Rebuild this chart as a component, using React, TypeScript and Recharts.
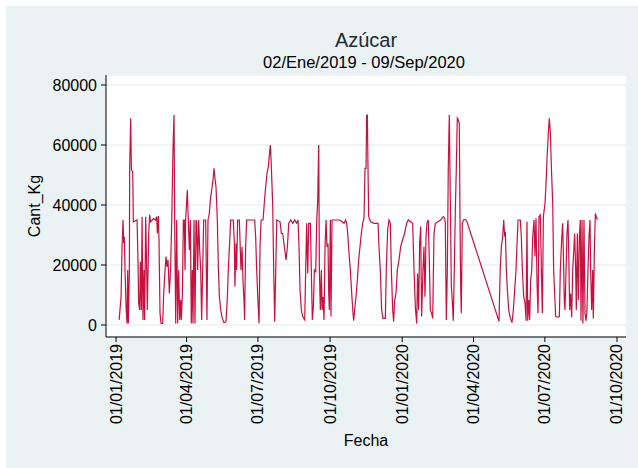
import { LineChart, Line, XAxis, YAxis, CartesianGrid } from "recharts"

// días desde 01/01/2019
const dias = [
  4, 6.4, 7.7, 8.9, 9.8, 10.6, 11.5, 12.8, 14, 14.9, 15.7, 17, 17.4, 18.7, 19.6, 21.3, 22.1, 26.8, 28, 28.9,
  30.2, 31, 32.3, 33.2, 34.4, 35.7, 36.5, 37.8, 39.1, 39.9, 40.8, 41.7, 42.9, 44.2, 47.6, 50.2, 51.8, 52.7, 54, 54.8,
  56.1, 57.4, 59.5, 60.8, 62.5, 63.8, 65, 66.3, 68, 69.7, 71.4, 72.7, 74, 74.8, 76.1, 77.4, 78.6, 79.9, 81.2, 82.5,
  83.3, 84.6, 85.9, 87.1, 88, 88.8,
  90.9, 92.2, 93.5, 94.8, 96, 97.3, 98.2, 99.5, 100.7, 102, 102.9, 104.1, 105.4, 106.7, 108, 109.2, 110.5, 111.8,
  114.3, 116, 117.3, 119, 120.3, 122, 123.7, 125, 126.2, 127.5, 129.2, 130.5, 131.8, 133.5, 135.6, 137.7, 140.3,
  142, 143.2, 144.9, 146.2, 149.6, 150.9, 151.7, 153, 153.8, 155.1, 157.3, 158.1, 159.4, 160.7, 161.9, 163.2, 164,
  165.3, 166.6, 176.8, 178.1, 179.4, 181, 182.4,
  183.7, 185, 187.5, 188.8, 190.5, 192.6, 194.3, 195.6, 196.9, 198.2, 199.9, 201.1, 202.4, 203.7, 205, 209.2, 210.9,
  212.6, 214.7, 216.9, 218.6, 220.3, 222.8, 225.4, 227.9, 230.4, 232.2, 233.4, 234.7, 236.4, 238.1, 240.7, 241.9,
  243.2, 244.5, 245.8, 247.9, 249.1, 250.4, 251.7, 253, 254.7, 256, 257.2, 258.5, 259.4, 260.6, 261.9, 262.8, 264,
  265.3, 266.6, 267.9, 269.1, 270.4, 271.3, 272.1, 273.4, 274.2,
  275.5, 285.3, 288.3, 290.8, 292.9, 294.2, 295.5, 297.2, 298.9, 300.6, 302.3, 303.1, 304.4, 306.1, 307.8, 309.5,
  311.2, 312.9, 314.6, 316.3, 317.6, 318.9, 319.7, 320.6, 321.4, 322.3, 324.8, 329, 334.2, 335.4, 337.1, 338.8,
  340.5, 343.5, 344.8, 346.5, 348.2, 349.9, 351.2, 352.9, 354.1, 355.4, 357.1, 358.8, 360.9, 363.1, 365, 368,
  370.7, 372.8, 375.8, 378.4, 380.1, 381.8, 383.5, 384.7, 386, 387.3, 388.6, 389.8, 391.5, 392.8, 394.1, 395.4,
  396.6, 398.3, 399.6, 400.9, 402.6, 403.9, 405.6, 407.3, 410.7, 414.1, 417.5, 419.2, 420, 421.3, 422.6, 423.8,
  425.1, 426.4, 427.7, 428.9, 430.2, 431.5, 432.8, 434, 435.3, 436.6, 437.9, 438.7, 439.6, 440.4, 441.7, 443.4,
  445.5, 447.5, 488.5,
  490, 491.5, 493.2, 494.5, 495.8, 496.6, 497.9, 499.2, 500.9, 503, 505.1, 506.8, 508.5, 510.2, 511.5, 512.8, 515.7,
  517, 518.3, 520, 521.7, 523, 524.2, 525.1, 526.4, 527.6, 528.9, 530.2, 531.5, 533.2, 534.4, 535.7, 537, 538.3,
  539.5, 541.2, 542.5, 543.8, 545.1,
  547.2, 548.5, 549.7, 551.4, 552.7, 554, 555.3, 557, 558.2, 559.5, 560.8, 563.3, 565.5, 566.7, 568.4, 569.7, 570.6,
  571.8, 572.7, 574, 575.2, 576.5, 577.4, 578.6, 579.9, 581.2, 582.5, 583.7, 585, 586.3, 587.1, 588.4, 589.7, 591,
  592.2, 593.1, 594.4, 595.6, 596.9, 598.2, 599.5, 600.7, 602, 603.3, 604.6, 605.4, 606.7, 608, 608.8, 610.1, 611.4,
  612.6, 613.9,
]

const cantKg = [
  1700, 9400, 26100, 35000, 27200, 29400, 17800, 6100, 500, 18300, 500, 17800, 52200, 68900, 51700, 51100, 34400, 35000, 21700, 7200,
  5000, 21100, 5000, 36100, 1700, 18300, 1700, 36100, 18300, 5000, 17800, 30500, 36700, 34400, 35500, 35000, 36100, 30500, 36300, 28300,
  3900, 500, 500, 10500, 18300, 22800, 19400, 21700, 10500, 19400, 39400, 59400, 70000, 35000, 500, 35000, 500, 18300, 1700, 8300,
  1700, 10500, 35000, 35000, 18300, 35000,
  45000, 35000, 25000, 35000, 500, 18300, 500, 35000, 500, 35000, 33900, 18300, 35000, 25000, 18300, 1700, 18300, 35000,
  35000, 1700, 35000, 37200, 41700, 45000, 48300, 52200, 48900, 46100, 35000, 19400, 9400, 5000, 2200, 800, 1100,
  9400, 18300, 27200, 35000, 35000, 27200, 12800, 27200, 18300, 35000, 35000, 28300, 18300, 26100, 15000, 8300, 1700,
  26100, 35000, 35000, 29400, 18300, 8000, 500,
  26100, 35000, 35000, 39400, 45000, 50600, 52800, 56700, 60000, 52200, 39400, 18300, 1100, 18300, 35000, 34400, 30500,
  30500, 26100, 21700, 26100, 33900, 35000, 33900, 35000, 33900, 35000, 26100, 11700, 5000, 2800, 1700, 18300,
  33900, 17200, 33900, 33900, 18300, 1700, 6100, 18300, 17800, 35000, 41100, 60000, 18300, 5000, 18300, 5000, 9400,
  1700, 26100, 35000, 26100, 27200, 10500, 5000, 35000, 2800,
  35000, 35000, 34400, 33900, 35000, 33900, 30500, 23900, 18300, 10500, 3900, 1400, 5000, 9400, 15000, 21700,
  26100, 30500, 33900, 35600, 52200, 52200, 70000, 70000, 52200, 36100, 34400, 33900, 33900, 26100, 18300, 5000,
  2200, 2200, 19400, 31700, 35000, 33900, 18300, 5000, 1100, 8300, 10500, 18300, 21700, 26100, 28000, 30500,
  33900, 35000, 34400, 33900, 18300, 6100, 500, 17200, 5000, 27200, 32800, 2800, 18300, 26100, 9400, 29400,
  33900, 35000, 21700, 5000, 3900, 2200, 30500, 33900, 34400, 35000, 36100, 35600, 33900, 1700, 18300, 52200,
  70000, 41700, 12800, 8300, 1400, 18300, 38300, 51700, 68900, 68300, 67200, 37200, 12800, 3900, 33900, 35000,
  35200, 34600, 1200,
  18300, 26100, 29400, 35000, 29400, 31100, 18300, 11700, 5000, 2200, 800, 5000, 11700, 18300, 27200, 35000, 35000,
  29400, 18300, 9400, 7200, 1400, 34400, 1400, 8300, 1700, 15000, 18300, 29400, 35000, 22800, 35600, 13900, 3900,
  36100, 36700, 19400, 3900, 36100,
  40600, 47200, 55000, 63900, 68900, 63900, 52800, 40600, 18300, 10500, 2800, 2600, 2800, 18300, 28300, 33900, 23900,
  8300, 5000, 18300, 30500, 35000, 25000, 5000, 10500, 2600, 18300, 23900, 30500, 18300, 5000, 30500, 8300, 29400,
  35000, 1400, 35000, 500, 35000, 3900, 1400, 5000, 18300, 29400, 35000, 18300, 5000, 18300, 2200, 23900, 37200,
  36100, 35000,
]

const fechaTicks = [0, 90, 181, 273, 365, 456, 547, 639]
const fechaLabels = ["01/01/2019", "01/04/2019", "01/07/2019", "01/10/2019", "01/01/2020", "01/04/2020", "01/07/2020", "01/10/2020"]
const cantTicks = [0, 20000, 40000, 60000, 80000]

const data = dias.map((d, i) => ({ dia: d, cant: cantKg[i] }))

const FONT = "'Liberation Sans', Arial, sans-serif"

function FechaTick({ x, y, payload }: any) {
  const i = fechaTicks.indexOf(payload.value)
  return (
    <text
      x={x}
      y={y}
      transform={`rotate(-90 ${x} ${y})`}
      textAnchor="end"
      dominantBaseline="central"
      fontSize={16}
      fontFamily={FONT}
      fill="#000"
    >
      {fechaLabels[i]}
    </text>
  )
}

export default function App() {
  return (
    <div style={{ position: "absolute", left: 0, top: 0, width: 638, height: 468, background: "#fff" }}>
      <div style={{ position: "absolute", left: 6, top: 6, right: 0, bottom: 0, background: "#eaf2f3" }} />
      <div style={{ position: "absolute", left: 0, top: 0 }}>
        <LineChart width={638} height={468} data={data} margin={{ top: 75, right: 12, left: 46, bottom: 31 }}>
          <CartesianGrid vertical={false} fill="#fff" stroke="#eaf2f3" strokeWidth={1.5} />
          <XAxis
            dataKey="dia"
            type="number"
            domain={[-12.8, 650.5]}
            ticks={fechaTicks}
            interval={0}
            height={100}
            tick={<FechaTick />}
            tickSize={5}
            tickMargin={2}
            stroke="#000"
            allowDataOverflow
          />
          <YAxis
            type="number"
            domain={[-4000, 83333]}
            ticks={cantTicks}
            interval={0}
            width={60}
            tickSize={5}
            tickMargin={4}
            stroke="#000"
            tick={{ fontSize: 16, fill: "#000", fontFamily: FONT }}
            allowDataOverflow
          />
          <Line
            type="linear"
            dataKey="cant"
            stroke="#c8103e"
            strokeWidth={1.2}
            dot={false}
            isAnimationActive={false}
          />
        </LineChart>
      </div>
      <svg width={638} height={468} style={{ position: "absolute", left: 0, top: 0, pointerEvents: "none" }}>
        <g fontFamily={FONT}>
          <text x={366} y={40} textAnchor="middle" dominantBaseline="central" fontSize={20} fill="#1e2a38">
            Azúcar
          </text>
          <text x={364} y={62} textAnchor="middle" dominantBaseline="central" fontSize={16.5} fill="#000">
            02/Ene/2019 - 09/Sep/2020
          </text>
          <text x={34} y={206} transform="rotate(-90 34 206)" textAnchor="middle" dominantBaseline="central" fontSize={16} fill="#000">
            Cant_Kg
          </text>
          <text x={366} y={440} textAnchor="middle" dominantBaseline="central" fontSize={16} fill="#000">
            Fecha
          </text>
        </g>
      </svg>
    </div>
  )
}
